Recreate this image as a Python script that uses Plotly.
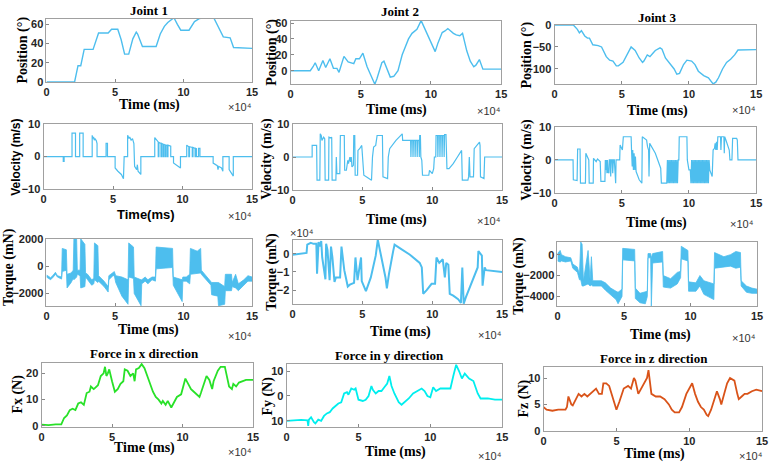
import plotly.graph_objects as go

W, H = 774, 467
BLUE = "rgb(77,190,238)"
GREEN = "rgb(40,225,40)"
CYAN = "rgb(0,238,238)"
ORANGE = "rgb(217,83,25)"
SERIF = "Liberation Serif"
SANS = "Liberation Sans"

# time unit: x10^4 ms
x_ticks = [0, 5, 10, 15]
x_ticktext = ["0", "5", "10", "15"]

pos1 = [(0,0),(2.05,0),(2.3,17),(2.5,17),(2.75,34),(3.4,34),(3.8,51),(4.5,51),(4.75,55),(5.2,55),(5.45,44),(5.7,29),(6.0,29),(6.3,45),(6.55,52),(6.65,50),(7.0,37),(8.0,37),(8.3,50),(8.6,58),(8.85,62),(9.15,66),(9.3,67),(9.55,60),(9.8,54),(10.4,54),(10.8,63),(11.15,66),(11.5,67),(12.2,67),(12.6,55),(12.9,47),(13.4,46),(13.65,36),(15,35)]
pos2 = [(0,0),(1.4,0),(1.6,5),(1.75,10),(2.0,0),(2.3,13),(2.5,4),(2.8,15),(3.05,3),(3.3,3),(3.45,-2),(3.8,18),(4.1,11),(4.4,10),(4.5,9),(4.65,15),(4.9,15),(5.15,22),(5.45,5),(5.7,-5),(6.0,-17),(6.15,-10),(6.5,10),(6.65,12),(6.9,0),(7.1,-8),(7.35,-7),(7.65,0),(7.95,20),(8.4,40),(8.65,47),(9.0,52),(9.3,63),(9.5,55),(9.9,40),(10.3,24),(10.5,35),(10.8,48),(11.0,50),(11.2,53),(11.6,47),(11.8,45),(12.05,44),(12.25,47),(12.55,25),(12.8,12),(13.05,5),(13.2,7),(13.45,14),(13.7,2),(15,2)]
pos3 = [(0,0),(1.4,0),(1.7,-10),(1.85,-18),(2.0,-13),(2.25,-25),(2.45,-30),(2.6,-30),(2.85,-45),(3.25,-47),(3.5,-50),(3.85,-72),(4.1,-80),(4.35,-82),(4.6,-93),(4.75,-93),(5.1,-85),(5.45,-65),(5.7,-50),(6.0,-58),(6.3,-75),(6.55,-85),(6.65,-82),(6.9,-68),(7.1,-72),(7.3,-65),(7.5,-58),(7.85,-52),(8.0,-55),(8.25,-75),(8.6,-90),(8.9,-100),(9.1,-112),(9.3,-110),(9.6,-90),(9.85,-80),(10.2,-82),(10.45,-90),(10.7,-105),(11.1,-115),(11.45,-120),(11.65,-127),(11.8,-134),(12.0,-130),(12.2,-120),(12.5,-100),(12.8,-85),(13.1,-78),(13.4,-68),(13.65,-57),(15,-56)]

vel1 = [(0,0),(1.42,0),(1.42,-1.5),(1.48,-1.5),(1.48,0),(2.05,0),(2.05,7.2),(2.3,7.2),(2.3,0),(2.6,0),(2.6,7.2),(2.85,7.2),(2.85,0),(3.5,0),(3.5,6.5),(3.55,5.5),(3.6,6),(3.65,5),(3.7,5.5),(3.8,4.8),(3.85,4),(3.85,0),(4.5,0),(4.5,4),(4.6,4),(4.6,0),(5.15,0),(5.15,-3.5),(5.35,-4.5),(5.6,-5.5),(5.75,-6.8),(5.8,0),(6.05,0),(6.05,6.5),(6.15,5.5),(6.2,6),(6.3,5),(6.4,5.5),(6.5,4),(6.55,0),(6.55,-3),(6.7,-4),(6.75,-2.5),(6.8,-4.5),(7.0,-5.5),(7.0,0),(8.0,0),(8.0,5.8),(8.25,4.5),(8.25,0),(8.3,0),(8.3,4.3),(8.45,4),(8.45,0),(8.5,0),(8.5,4),(8.6,3.8),(8.6,0),(8.65,0),(8.65,3.8),(8.75,3.5),(8.75,0),(8.8,0),(8.8,3.5),(8.9,3.4),(8.9,0),(8.95,0),(8.95,3.5),(9.15,3.2),(9.15,0),(9.35,0),(9.35,-2),(9.6,-2.8),(9.85,-3.5),(9.85,0),(10.3,0),(10.3,3.5),(10.45,3),(10.45,0),(10.5,0),(10.5,3),(10.7,2.8),(10.7,0),(10.75,0),(10.75,2.8),(10.9,2.5),(10.9,0),(10.95,0),(10.95,2.5),(11.0,2.4),(11.0,0),(11.15,0),(11.15,2.5),(11.25,2.5),(11.25,0),(12.2,0),(12.2,-2),(12.5,-2.8),(12.55,-4),(12.6,-3),(12.8,-3.5),(12.85,-4.5),(12.9,-4.5),(12.9,0),(13.35,0),(13.35,-4),(13.6,-6),(13.65,-6),(13.65,0),(15,0)]
vel2 = [(0,0),(1.4,0),(1.4,3.5),(1.72,3.5),(1.75,-7),(1.95,-7),(1.98,7),(2.05,6.5),(2.1,5),(2.17,5.5),(2.22,6),(2.3,5.5),(2.33,-7),(2.58,-7),(2.6,6),(2.72,5.8),(2.8,6),(2.83,-7),(3.1,-7),(3.13,0),(3.17,-5),(3.38,-5),(3.42,6.5),(3.7,6.5),(3.73,-4),(3.85,-4),(3.9,-3),(3.95,-1),(4.0,-2),(4.05,0),(4.1,0),(4.15,-1.5),(4.2,0),(4.25,-3),(4.35,-2.5),(4.38,6.5),(4.45,6.5),(4.48,-5.5),(4.65,-5.5),(4.68,2),(4.8,2.5),(4.95,3.5),(5.0,0),(5.1,-5.5),(5.3,-6),(5.5,-6.5),(5.65,-7),(5.72,0),(5.8,3),(5.95,3.5),(6.05,6.5),(6.43,6.5),(6.47,-6),(6.8,-6.5),(6.85,0),(6.95,2.5),(7.4,5),(7.85,7),(7.88,5),(8.45,5),(8.47,0),(8.5,5),(8.6,5),(8.62,0),(8.65,5),(8.75,5),(8.77,0),(8.8,5),(8.9,5),(8.92,0),(8.95,5),(9.05,5),(9.07,0),(9.1,6.5),(9.15,6.5),(9.18,0),(9.25,-1),(9.3,-5.5),(9.75,-5.5),(9.8,-4),(9.9,-4.5),(10.0,-5),(10.1,-3.5),(10.15,0),(10.25,0),(10.27,6.5),(10.38,6.5),(10.4,0),(10.43,6.5),(10.53,6.5),(10.55,0),(10.58,6.5),(10.68,6.5),(10.7,0),(10.73,6.5),(10.83,6.5),(10.85,0),(10.88,6.8),(10.98,6.8),(11.0,0),(11.05,-3.5),(11.2,-3.5),(11.5,-2),(11.8,0),(12.0,1.5),(12.1,2),(12.15,-7),(12.55,-7),(12.6,-6),(12.65,0),(12.7,-6),(12.95,-6),(13.0,2.5),(13.2,3.5),(13.38,4.5),(13.42,3.5),(13.45,-6),(13.7,-6.5),(13.75,0),(15,0)]
vel3 = [(0,0),(1.38,0),(1.4,-6),(1.68,-6.2),(1.72,3.3),(1.9,3.3),(1.93,-7),(2.3,-7),(2.33,2),(2.45,1),(2.55,0),(2.58,-7),(2.88,-7),(2.9,0.5),(3.0,0),(3.1,-0.5),(3.2,0.3),(3.3,0),(3.4,-0.5),(3.45,-6.5),(3.75,-6.5),(3.78,0),(3.82,-3),(3.86,0),(3.9,-4),(3.94,0),(3.98,-3.5),(4.05,-4),(4.08,0),(4.15,0),(4.18,-5),(4.22,0),(4.3,0),(4.33,-4),(4.38,0),(4.45,0),(4.5,-7),(4.55,-7),(4.58,0),(4.85,0),(4.88,4.5),(5.05,3),(5.12,7),(5.7,7),(5.73,3),(5.78,-2),(5.82,3),(5.87,-3),(5.92,2),(5.97,-3),(6.02,1),(6.07,-3.5),(6.3,-6),(6.5,-7),(6.53,7),(6.85,6),(6.92,4),(7.0,3),(7.03,-5),(7.08,5),(7.5,2),(7.9,-2.5),(7.95,-7),(8.35,-7),(8.4,0),(8.45,-7),(8.5,0),(8.55,-7),(8.6,0),(8.65,-7),(8.7,0),(8.75,-7),(8.8,0),(8.85,-7),(8.9,0),(8.95,-7),(9.0,0),(9.05,-7),(9.1,0),(9.15,-7),(9.2,0),(9.25,0),(9.28,7),(9.85,7),(9.88,0),(10.0,-3),(10.1,-3),(10.15,-7),(10.2,0),(10.25,-7),(10.3,0),(10.35,-7),(10.4,0),(10.45,-7),(10.5,0),(10.55,-7),(10.6,0),(10.65,-7),(10.7,0),(10.75,-7),(10.8,0),(10.85,-7),(10.9,0),(10.95,-7),(11.0,0),(11.05,-7),(11.1,0),(11.15,-7),(11.2,0),(11.25,-7),(11.3,0),(11.35,-7),(11.4,0),(11.45,-7),(11.5,0),(11.55,-3),(11.73,-5),(11.76,0),(11.8,3),(11.9,3.5),(11.95,5),(12.0,3),(12.05,5.5),(12.1,3),(12.15,7),(12.35,7),(12.38,3),(12.42,7),(12.6,7),(12.63,2),(12.66,7),(12.75,6),(12.85,5),(13.0,3),(13.05,0),(13.2,0),(13.25,6.5),(13.55,6.5),(13.6,6),(13.65,0),(15,0)]

# torque 1 envelope: (t, low, high) in mN
tq1 = [(0,-800,-650),(0.3,-1000,-850),(0.5,-800,-650),(0.65,-600,-450),(0.8,-800,-700),(1.1,-950,-800),(1.15,-400,1300),(1.45,-300,1200),(1.5,-1600,-600),(1.8,-1200,-500),(1.95,-900,-300),(2.0,-1000,2000),(2.2,-800,2000),(2.25,-600,-300),(2.45,-700,-300),(2.5,-1600,2000),(2.8,-1500,1600),(2.85,-800,-500),(3.0,-1000,-600),(3.3,-1400,-1000),(3.45,-1300,-900),(3.5,-1000,1700),(3.75,-1200,1500),(3.8,-1100,-700),(4.2,-1500,-1100),(4.5,-1900,-1500),(4.55,-1000,-700),(4.85,-700,-500),(4.95,-700,-400),(5.05,-1200,-700),(5.5,-2200,-800),(5.95,-2800,-1000),(6.0,-800,1700),(6.35,-900,1400),(6.4,-2000,-800),(6.9,-2900,-1000),(6.95,-1300,-1000),(7.2,-1100,-800),(7.4,-1300,-1000),(7.7,-1000,-800),(7.95,-1100,-800),(8.0,-200,1400),(9.2,-100,1300),(9.25,-1400,-800),(9.9,-2600,-1000),(9.95,-1100,-800),(10.2,-1100,-800),(10.45,-1300,-600),(10.5,-600,1300),(11.0,-500,1100),(11.25,-500,1300),(11.3,-600,-300),(12.0,-1400,-1100),(12.05,-2100,-1200),(12.5,-2200,-1200),(12.55,-2900,-1200),(13.0,-2800,-1500),(13.05,-1800,-600),(13.5,-1800,-600),(13.55,-1500,-1200),(13.8,-1600,-600),(14.0,-1800,-1300),(14.4,-1400,-1000),(14.7,-1100,-700),(15.0,-1100,-800)]
# torque 2 in x10^4 mN
tq2 = [(0,-0.05),(0.5,0.0),(1.0,0.05),(1.05,0.5),(1.3,0.6),(1.5,0.55),(1.7,0.55),(1.75,-1.1),(1.8,-0.2),(1.86,0.65),(1.95,0.4),(2.05,0.7),(2.12,-0.2),(2.35,-1.4),(2.4,0.55),(2.5,0.2),(2.65,-1.45),(2.75,0.4),(2.85,-0.2),(3.0,-1.55),(3.1,-1.3),(3.4,-1.3),(3.5,0.4),(3.7,-0.9),(3.95,-1.8),(4.1,-1.7),(4.4,-1.6),(4.5,-0.2),(4.65,-1.45),(4.9,-0.2),(4.95,-1.5),(5.25,-2.05),(5.6,-1.3),(5.95,-0.1),(6.1,0.77),(6.25,0.2),(6.65,-1.3),(6.75,-1.9),(6.9,-1.1),(7.2,0.15),(7.3,0.5),(7.7,0.3),(8.4,-0.05),(9.1,-0.5),(9.25,-0.75),(9.35,-2.2),(9.6,-2.0),(9.95,-1.65),(10.2,-1.65),(10.3,-0.2),(10.5,-0.5),(10.75,-0.3),(10.9,-1.3),(11.0,-0.5),(11.15,-0.6),(11.25,-2.2),(11.5,-2.3),(11.85,-2.5),(12.05,-2.7),(12.15,-0.75),(12.25,-2.75),(12.4,-2.4),(12.9,-1.45),(13.25,-0.75),(13.3,0.15),(13.55,-0.1),(13.6,-1.75),(13.75,-0.75),(13.85,-0.9),(14.5,-0.95),(15,-1.0)]
# torque 3 envelope: (t, low, high) in mN
tq3 = [(0.0,-600,100),(0.2,-700,400),(0.3,-600,0),(0.6,-700,-200),(1.0,-600,-300),(1.15,-1300,-900),(1.5,-1700,-1200),(1.65,-2400,-1900),(1.75,-2400,1200),(1.85,-3000,1000),(1.95,-3000,-2500),(2.3,-2800,400),(2.45,-3000,-2400),(2.55,-2900,-200),(2.65,-3000,-2500),(3.3,-3000,-2500),(3.6,-3400,-2700),(4.0,-3900,-3200),(4.4,-4300,-3500),(4.55,-4700,-3600),(4.85,-4000,-3300),(4.9,-500,600),(5.8,-600,500),(5.85,-4200,-3200),(6.2,-4600,-3700),(6.6,-4700,-3600),(6.75,-4000,-3500),(6.8,-300,100),(7.0,-300,100),(7.05,-5000,-300),(7.15,-800,100),(7.9,-700,300),(7.95,-3100,-2000),(8.5,-3200,-2300),(9.0,-2800,-1700),(9.25,-2200,-1600),(9.3,-400,800),(9.8,-600,400),(9.85,-3500,-2600),(10.4,-3500,-2700),(10.7,-3000,-2000),(11.0,-3800,-2500),(11.75,-4300,-2800),(11.8,-1300,200),(12.5,-1200,-200),(13.0,-1100,0),(13.4,-1300,300),(13.75,-1200,200),(13.8,-3000,-2500),(14.2,-3600,-3000),(14.6,-3700,-3200),(15.0,-3700,-3300)]

fx = [(0,0.5),(0.5,0.3),(1.0,0.6),(1.4,0.6),(1.6,3),(1.8,4),(2.0,6),(2.2,6.5),(2.4,6),(2.6,8.5),(2.8,9),(3.0,8),(3.2,12.5),(3.4,13),(3.5,15),(3.7,14),(3.8,14.5),(4.0,15.5),(4.2,19),(4.4,20),(4.5,22.5),(4.6,19),(4.7,20),(4.8,21.5),(5.0,17),(5.2,13),(5.4,14),(5.6,16),(5.8,17),(5.9,21.5),(6.1,21),(6.3,19),(6.5,20),(6.6,17),(6.7,21.5),(6.9,22),(7.1,23.5),(7.3,22),(7.5,19),(7.7,16),(7.9,13),(8.1,11),(8.3,10),(8.5,8.5),(8.6,9.5),(8.8,8),(8.95,9.5),(9.1,8),(9.2,7),(9.4,9),(9.6,11),(9.9,12),(10.0,14),(10.2,18),(10.4,16),(10.6,14),(10.8,13),(11.0,12),(11.2,11),(11.3,12.5),(11.5,16),(11.7,19),(11.9,17.5),(12.1,14),(12.2,17),(12.5,21),(12.7,22.5),(13.0,22.5),(13.1,20),(13.3,15),(13.5,14),(13.6,16),(13.8,15),(14.0,16.5),(14.5,17.5),(15,17.5)]
fy = [(0,-10),(0.5,-9.8),(1.0,-9.6),(1.45,-9.8),(1.5,-12),(1.55,-9.5),(1.7,-8.5),(1.9,-10.5),(2.0,-11),(2.2,-9.5),(2.4,-10),(2.6,-8),(2.8,-7),(3.0,-6.5),(3.2,-5),(3.4,-4),(3.6,-3),(3.8,-2.5),(3.9,-1),(4.0,1),(4.2,1.5),(4.3,0.5),(4.5,3),(4.7,2.5),(4.8,3),(5.0,-1.5),(5.3,-2),(5.5,-1.5),(5.7,0),(5.9,4),(6.0,2.5),(6.2,1),(6.4,2),(6.6,2),(6.8,3.5),(7.0,5),(7.15,8),(7.3,4),(7.5,1),(7.8,-2.5),(8.0,-3.5),(8.2,-2.5),(8.5,-1),(8.8,1),(9.1,2),(9.4,3),(9.6,2),(9.8,0),(10.0,-0.5),(10.2,3.5),(10.4,2),(10.7,3),(11.0,3),(11.4,3),(11.6,8),(11.8,12.5),(12.0,10),(12.2,7),(12.4,9),(12.7,7),(13.0,6),(13.3,1),(13.5,-1),(14.0,-1),(14.5,-1.5),(15,-1.5)]
fz = [(0,4.5),(0.2,4),(0.6,3.8),(1.0,4),(1.5,4),(1.6,4.5),(1.7,6.5),(1.9,5),(2.0,4.8),(2.2,6),(2.4,7),(2.6,6.5),(2.8,7),(3.0,6.5),(3.2,7),(3.4,7.5),(3.6,8),(3.8,7),(4.0,7),(4.1,9),(4.3,9),(4.5,8.5),(4.6,7.5),(4.8,5.5),(5.0,4),(5.2,5.5),(5.5,8),(5.8,8.5),(6.0,8),(6.2,10),(6.3,9.5),(6.5,7),(6.7,8),(6.9,9),(7.1,10),(7.2,11.5),(7.3,9),(7.4,7),(7.7,6.5),(8.0,6.5),(8.3,6),(8.6,5),(8.8,4),(9.0,3.5),(9.3,3.5),(9.5,4.5),(9.8,7),(10.0,8),(10.2,9),(10.4,7),(10.6,5.5),(10.8,4.5),(11.0,4),(11.2,3),(11.3,2.8),(11.5,4),(11.7,6),(11.9,7.5),(12.1,6),(12.2,5),(12.4,7),(12.6,9),(12.8,10),(13.1,9.5),(13.3,7),(13.4,6),(13.6,6.5),(13.8,7),(14.0,7),(14.3,7.5),(14.6,7.8),(15,7.5)]

# panel boxes in pixels: left, right, top, bottom
boxes = [
    (44, 252, 13, 78), (291, 504, 15, 80), (558, 762, 19, 80),
    (41, 252, 121, 188), (293, 505, 121, 189), (558, 762, 124, 192),
    (44, 252, 239, 308), (293, 505, 240, 306), (561, 763, 242, 308),
    (39, 253, 366, 432), (287, 505, 367, 432), (547, 768, 371, 436),
]
yranges = [[0, 66], [-16.6, 63], [-134, 1],
           [-10, 10], [-10, 10], [-10, 10],
           [-2930, 2000], [-2.77, 0.77], [-4920, 1230],
           [-0.4, 24.1], [-12.4, 13], [0, 12]]
yticks = [[0, 20, 40, 60], [0, 20, 40, 60], [-100, -50, 0],
          [-10, 0, 10], [-10, 0, 10], [-10, 0, 10],
          [-2000, 0, 2000], [-2, -1, 0], [-4000, -2000, 0],
          [0, 10, 20], [-10, 0, 10], [0, 5, 10]]
ytext = [None] * 10 + [["10", "0", "10"], None]

fig = go.Figure()

def add_line(i, pts, color, width=1.4):
    fig.add_trace(go.Scatter(x=[p[0] for p in pts], y=[p[1] for p in pts], mode="lines",
                             line=dict(color=color, width=width), xaxis=f"x{i}", yaxis=f"y{i}",
                             showlegend=False, hoverinfo="skip"))

def add_band(i, pts, color):
    t = [p[0] for p in pts]
    fig.add_trace(go.Scatter(x=t, y=[p[1] for p in pts], mode="lines", line=dict(color=color, width=0.8),
                             xaxis=f"x{i}", yaxis=f"y{i}", showlegend=False, hoverinfo="skip"))
    fig.add_trace(go.Scatter(x=t, y=[p[2] for p in pts], mode="lines", line=dict(color=color, width=0.8),
                             fill="tonexty", fillcolor=color,
                             xaxis=f"x{i}", yaxis=f"y{i}", showlegend=False, hoverinfo="skip"))

add_line(1, pos1, BLUE)
add_line(2, pos2, BLUE)
add_line(3, pos3, BLUE)
add_line(4, vel1, BLUE, 1.2)
add_line(5, vel2, BLUE, 1.2)
add_line(6, vel3, BLUE, 1.2)
add_band(7, tq1, BLUE)
add_line(8, tq2, BLUE, 2.0)
add_band(9, tq3, BLUE)
add_line(10, fx, GREEN, 1.8)
add_line(11, fy, CYAN, 1.8)
add_line(12, fz, ORANGE, 1.8)

layout = dict(width=W, height=H, margin=dict(l=0, r=0, t=0, b=0),
              paper_bgcolor="white", plot_bgcolor="white", showlegend=False)
tickfont = dict(family=SANS, size=11, color="#262626", weight="bold")
for k, (l, r, t, b) in enumerate(boxes):
    i = k + 1
    sx = "" if i == 1 else str(i)
    layout[f"xaxis{sx}"] = dict(domain=[l / W, r / W], range=[0, 15], tickvals=x_ticks, ticktext=x_ticktext,
                                anchor=f"y{sx}", ticks="inside", ticklen=3, tickcolor="#888",
                                showline=True, mirror=True, linecolor="#a0a0a0", linewidth=1,
                                showgrid=False, zeroline=False, tickfont=tickfont, fixedrange=True)
    ya = dict(domain=[1 - b / H, 1 - t / H], range=yranges[k], tickvals=yticks[k],
              anchor=f"x{sx}", ticks="inside", ticklen=3, tickcolor="#888",
              showline=True, mirror=True, linecolor="#a0a0a0", linewidth=1,
              showgrid=False, zeroline=False, tickfont=tickfont, fixedrange=True)
    if ytext[k]:
        ya["ticktext"] = ytext[k]
    layout[f"yaxis{sx}"] = ya

anns = []
def ann(text, px, py, size=13, family=SERIF, bold=True, angle=0, color="#000"):
    anns.append(dict(text=text, x=px / W, y=1 - py / H, xref="paper", yref="paper",
                     xanchor="center", yanchor="middle", showarrow=False, textangle=angle,
                     font=dict(family=family, size=size, color=color, weight="bold" if bold else "normal")))

titles = [("Joint 1", 148, 5), ("Joint 2", 402, 6), ("Joint 3", 662, 12),
          ("Force in x direction", 143, 357), ("Force in y direction", 391, 359), ("Force in z direction", 659, 362)]
for txt, px, py in titles:
    ann(txt, px, py, 13)

xlabels = [("Time (ms)", 148, 102, SERIF), ("Time (ms)", 398, 107, SERIF), ("Time (ms)", 662, 108, SERIF),
           ("Time(ms)", 145, 214, SANS), ("Time (ms)", 398, 220, SERIF), ("Time (ms)", 661, 223, SERIF),
           ("Time (ms)", 147, 333, SERIF), ("Time (ms)", 402, 335, SERIF), ("Time (ms)", 665, 338, SERIF),
           ("Time (ms)", 143, 454, SERIF), ("Time (ms)", 397, 458, SERIF), ("Time (ms)", 659, 460, SERIF)]
for txt, px, py, fam in xlabels:
    ann(txt, px, py, 14 if fam == SERIF else 13, fam)

expo = [(240, 104), (492, 108), (750, 107), (240, 216), (492, 221), (748, 224),
        (240, 339), (493, 338), (750, 341), (240, 458), (493, 462), (757, 462)]
for px, py in expo:
    ann("×10⁴", px, py, 11, SANS, False, 0, "#333")
ann("×10⁴", 303, 233, 11, SANS, False, 0, "#333")

ylabels = [("Position (°)", 20, 45, SERIF), ("Position (°)", 272, 47, SERIF), ("Position (°)", 530, 50, SERIF),
           ("Velocity (m/s)", 13, 155, SANS), ("Velocity (m/s)", 267, 157, SERIF), ("Velocity (m/s)", 530, 158, SERIF),
           ("Torque (mN)", 6, 268, SERIF), ("Torque (mN)", 272, 273, SERIF), ("Torque (mN)", 522, 277, SERIF),
           ("Fx (N)", 15, 398, SERIF), ("Fy (N)", 268, 400, SERIF), ("Fz (N)", 527, 403, SERIF)]
for txt, px, py, fam in ylabels:
    ann(txt, px, py, 14 if fam == SERIF else 12, fam, True, -90)

layout["annotations"] = anns
fig.update_layout(**layout)
fig.write_html("out.html")
